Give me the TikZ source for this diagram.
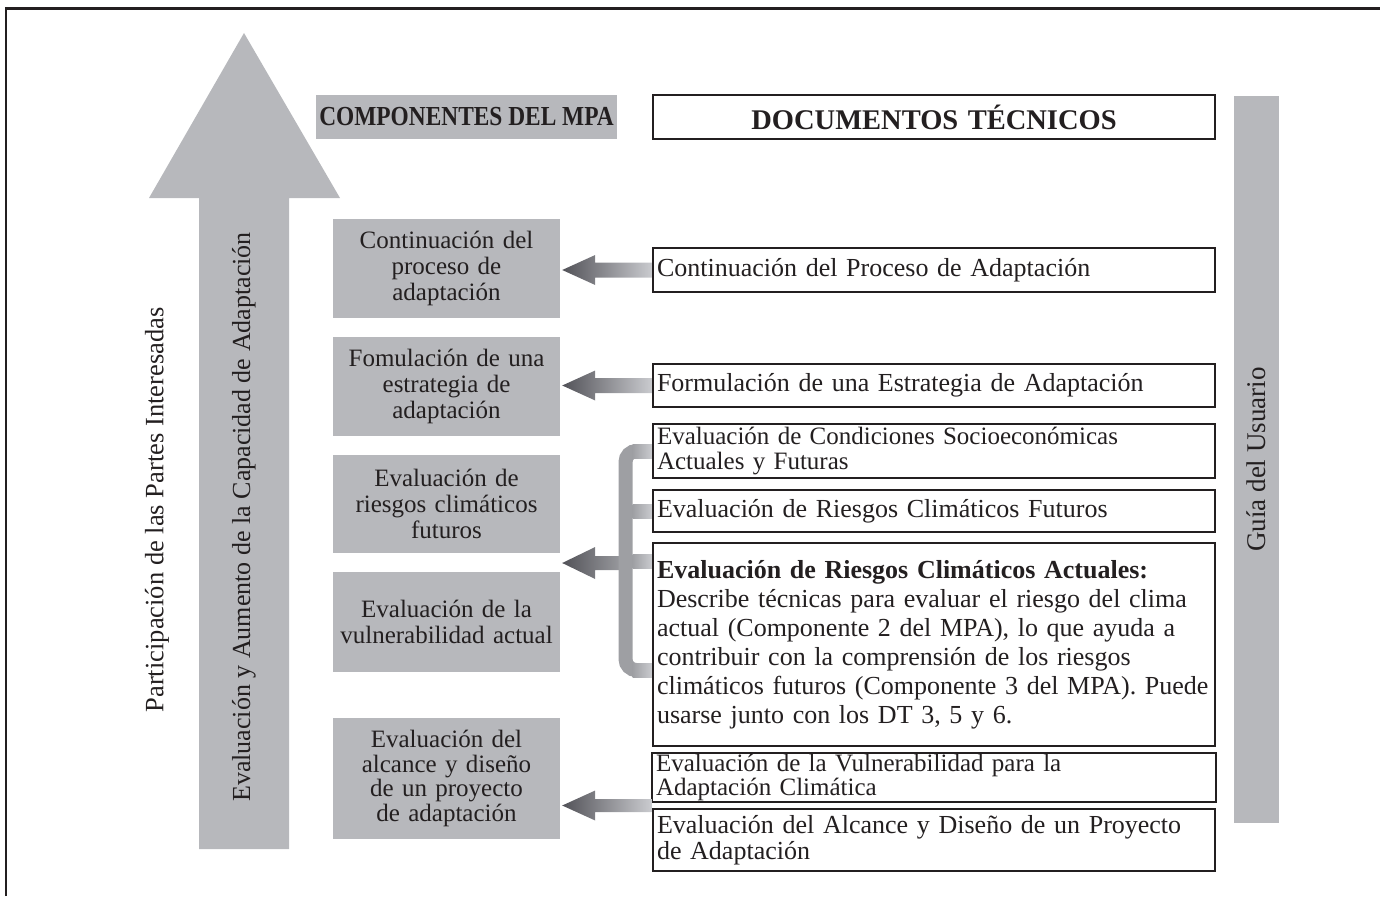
\documentclass[tikz,border=0pt]{standalone}
\usepackage{fontspec}
\setmainfont{Liberation Serif}
\usepackage{graphicx}
\usetikzlibrary{calc}

\definecolor{panelgray}{RGB}{183,184,188}
\definecolor{inkcol}{RGB}{35,31,32}
\definecolor{shdark}{RGB}{82,82,88}
\definecolor{shmid}{RGB}{158,159,163}
\definecolor{shlight}{RGB}{202,203,207}

% horizontal grey arrow with a dark tip fading to light at its tail
\newcommand{\gradarrow}[4]{% #1 tip, #2 tail, #3 head half-height, #4 shaft half-height
  \shade[left color=shdark, right color=shlight]
    (#1) -- ($(#1)+(33,-#3)$) -- ($(#1)+(33,-#4)$) -- ($(#2)+(0,-#4)$)
    -- ($(#2)+(0,#4)$) -- ($(#1)+(33,#4)$) -- ($(#1)+(33,#3)$) -- cycle;}

\tikzset{
  txt/.style={text=inkcol, inner sep=0pt, font=\fontsize{26}{24.5}\selectfont},
  compbox/.style={txt, fill=panelgray, minimum width=227pt, text width=227pt, align=center,
    font=\fontsize{25}{26}\selectfont},
  headbox/.style={txt, fill=panelgray, minimum width=301pt, minimum height=44pt,
    font=\fontsize{27.5}{27.5}\selectfont\bfseries},
  docbox/.style={txt, draw=inkcol, line width=2.2pt, fill=white, minimum width=562pt,
    text width=554pt, inner xsep=4pt, align=left},
  vlabel/.style={txt, rotate=90},
}

\begin{document}
\begin{tikzpicture}[x=1pt, y=-1pt]
\useasboundingbox (0,0) rectangle (1380,896);

% outer frame
\draw[line width=2.8pt, color=inkcol] (6,896) -- (6,8.5) -- (1380,8.5);

% large upward arrow
\fill[panelgray] (199,849) -- (199,198) -- (149,198) -- (244,33) -- (340,198)
  -- (289,198) -- (289,849) -- cycle;
\node[vlabel] (capacidad) at (244,517) {Evaluación y Aumento de la Capacidad de Adaptación};
\node[vlabel, font=\fontsize{26.5}{26.5}\selectfont] (partes) at (157,510) {Participación de las Partes Interesadas};

% column headers
\node[headbox] (comphead) at (466.5,117) {\scalebox{0.85}[1]{COMPONENTES DEL MPA}};
\node[docbox, minimum height=44pt, align=center, font=\fontsize{28.5}{28.5}\selectfont\bfseries]
  (dochead) at (934,117) {DOCUMENTOS TÉCNICOS};

% side bar
\node[fill=panelgray, minimum width=45pt, minimum height=727pt, inner sep=0pt]
  (guide) at (1256.5,459.5) {};
\node[vlabel, font=\fontsize{27}{27}\selectfont] (guidetxt) at (guide.center) {Guía del Usuario};

% components of the framework
\node[compbox, minimum height=99pt] (c1) at (446.5,268.5) {Continuación del\\ proceso de\\ adaptación};
\node[compbox, minimum height=99pt] (c2) at (446.5,386.5) {Fomulación de una\\ estrategia de\\ adaptación};
\node[compbox, minimum height=98pt] (c3) at (446.5,504) {Evaluación de\\ riesgos climáticos\\ futuros};
\node[compbox, minimum height=100pt] (c4) at (446.5,622) {Evaluación de la\\ vulnerabilidad actual};
\node[compbox, minimum height=121pt, font=\fontsize{25}{24.5}\selectfont] (c5) at (446.5,778.5)
  {Evaluación del\\ alcance y diseño\\ de un proyecto\\ de adaptación};

% technical papers
\node[docbox, minimum height=44pt] (r1) at (934,270) {Continuación del Proceso de Adaptación};
\node[docbox, minimum height=43pt] (r2) at (934,385.5) {Formulación de una Estrategia de Adaptación};
\node[docbox, minimum height=54pt, font=\fontsize{25}{24.5}\selectfont] (r3) at (934,451)
  {Evaluación de Condiciones Socioeconómicas\\ Actuales y Futuras};
\node[docbox, minimum height=42pt] (r4) at (934,511) {Evaluación de Riesgos Climáticos Futuros};
\node[docbox, minimum height=203pt, font=\fontsize{26}{29}\selectfont] (r5) at (934,644.5)
  {\textbf{Evaluación de Riesgos Climáticos Actuales:}\\
   Describe técnicas para evaluar el riesgo del clima\\
   actual (Componente 2 del MPA), lo que ayuda a\\
   contribuir con la comprensión de los riesgos\\
   climáticos futuros (Componente 3 del MPA). Puede\\
   usarse junto con los DT 3, 5 y 6.};
\node[docbox, minimum width=564pt, text width=556pt, minimum height=49pt, font=\fontsize{25}{24}\selectfont]
  (r6) at (934,777.5) {Evaluación de la Vulnerabilidad para la\\ Adaptación Climática};
\node[docbox, minimum height=62pt, font=\fontsize{26}{26}\selectfont] (r7) at (934,840)
  {Evaluación del Alcance y Diseño de un Proyecto\\ de Adaptación};

% single arrows
\coordinate (t1) at ($(c1.east |- r1.west)+(2,0)$);
\gradarrow{t1}{r1.west}{15}{7.5}
\coordinate (t2) at ($(c2.east |- r2.west)+(2,0)$);
\gradarrow{t2}{r2.west}{15}{7.5}
\coordinate (t5mid) at ($(r6.south west)!0.5!(r7.north west)$);
\coordinate (t5) at ($(c5.east |- t5mid)+(2,0)$);
\gradarrow{t5}{t5mid}{15}{6.5}

% bracket collecting the three assessment papers
\coordinate (barx) at (625.5,0);
\coordinate (ra) at ($(r5.north west)+(0,20)$);
\coordinate (rb) at ($(r5.south west)+(0,-77)$);
\coordinate (t34) at ($(c3.east)!0.5!(c4.east)+(2,0)$);
\shade[left color=shdark, right color=shmid]
  (t34) -- ($(t34)+(33,-16)$) -- ($(t34)+(33,-7)$) -- ($(barx |- t34)+(0,-7)$)
  -- ($(barx |- t34)+(0,7)$) -- ($(t34)+(33,7)$) -- ($(t34)+(33,16)$) -- cycle;
\draw[line width=14pt, color=shmid, rounded corners=11pt]
  (r3.west) -- (barx |- r3.west) -- (barx |- rb) -- (rb);
\foreach \s in {r3.west, r4.west, ra, rb}{
  \shade[left color=shmid, right color=shlight]
    ($(632.5,0 |- \s)+(0,-7)$) rectangle ($(\s)+(0,7)$);
}
\end{tikzpicture}
\end{document}
